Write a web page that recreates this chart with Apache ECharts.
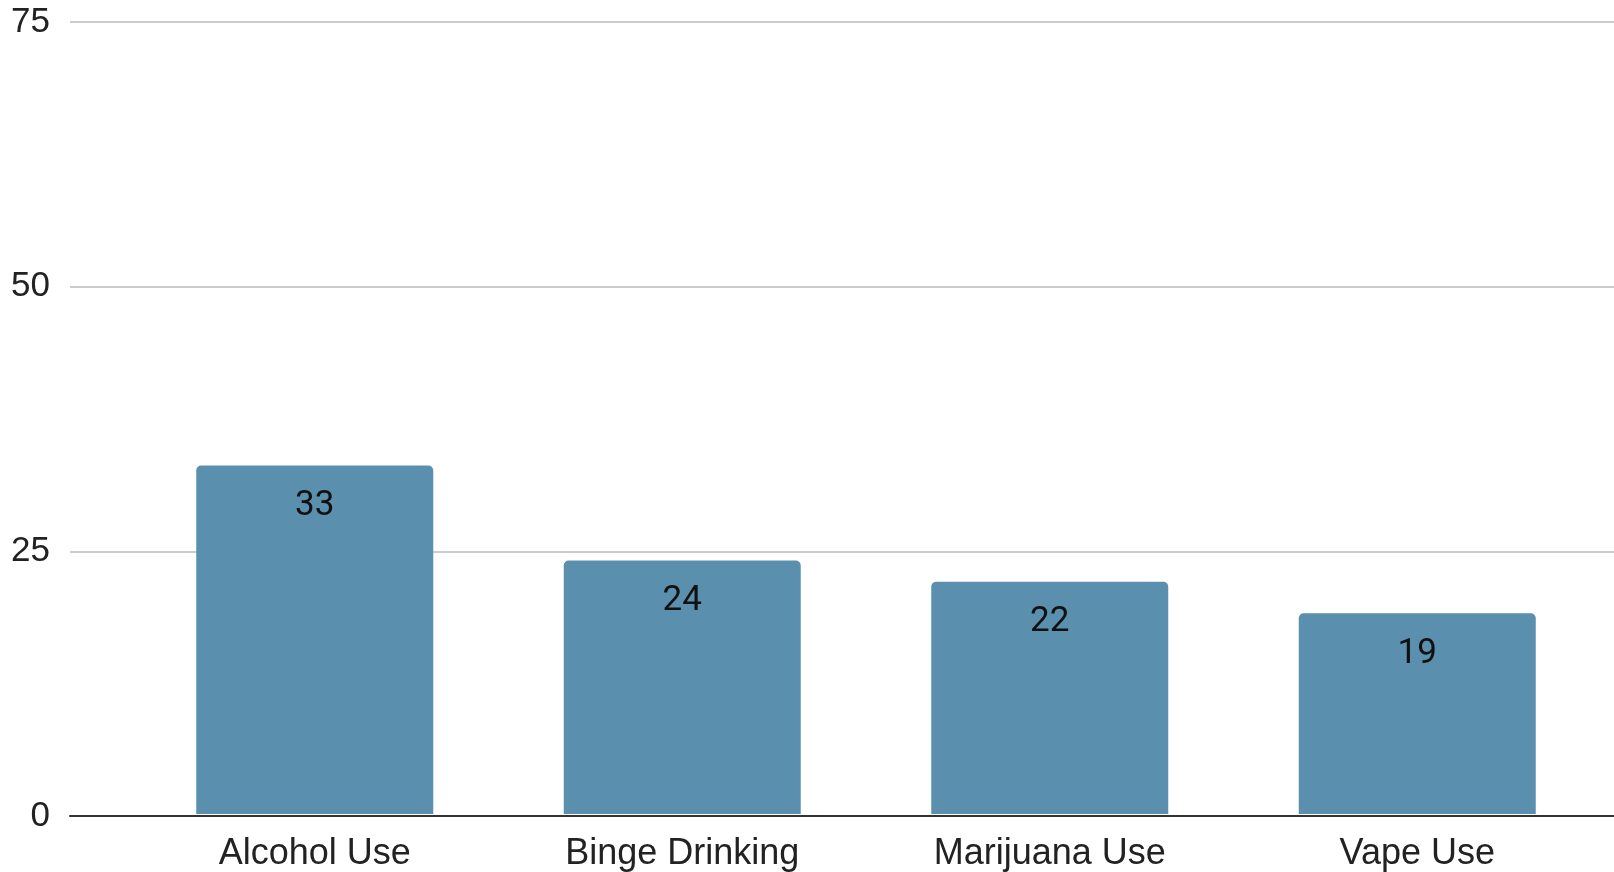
<!DOCTYPE html>
<html><head><meta charset="utf-8">
<script src="https://cdn.jsdelivr.net/npm/echarts@6/dist/echarts.min.js"></script>
<style>html,body{margin:0;padding:0;background:#fff}#c{width:1614px;height:872px}</style>
</head><body><div id="c"></div>
<script>
var categories = ['Alcohol Use', 'Binge Drinking', 'Marijuana Use', 'Vape Use'];
var values = [33, 24, 22, 19];
var yTicks = [0, 25, 50, 75];

var chart = echarts.init(document.getElementById('c'));
var yMin = yTicks[0], yMax = yTicks[yTicks.length - 1], yStep = yTicks[1] - yTicks[0];
chart.setOption({
  animation: false,
  grid: [
    {left: 70, right: 0, top: 22, bottom: 56},
    {left: 131, right: 13, top: 22, bottom: 56}
  ],
  xAxis: [
    {gridIndex: 0, type: 'value', min: 0, max: 1, axisLabel: {show: false}, axisTick: {show: false},
     splitLine: {show: false}, axisLine: {show: true, onZero: false, lineStyle: {color: '#333', width: 2}}},
    {gridIndex: 1, type: 'category', data: categories, axisLine: {show: false}, axisTick: {show: false},
     axisLabel: {color: '#222', fontSize: 36, fontFamily: 'Liberation Sans, Arial', margin: 22}}
  ],
  yAxis: [
    {gridIndex: 0, type: 'value', min: yMin, max: yMax, interval: yStep,
     axisLine: {show: false}, axisTick: {show: false},
     axisLabel: {color: '#222', fontSize: 35, fontFamily: 'Liberation Sans, Arial', margin: 20},
     splitLine: {lineStyle: {color: '#cccccc', width: 2}}},
    {gridIndex: 1, type: 'value', min: yMin, max: yMax, interval: yStep, show: false}
  ],
  series: [{
    type: 'bar', xAxisIndex: 1, yAxisIndex: 1, data: values, barWidth: 237,
    itemStyle: {color: '#5a8fad', borderRadius: [5, 5, 0, 0]},
    label: {show: true, position: 'insideTop', distance: 23, color: '#111', fontSize: 35, fontFamily: 'Roboto'}
  }]
});
</script></body></html>
